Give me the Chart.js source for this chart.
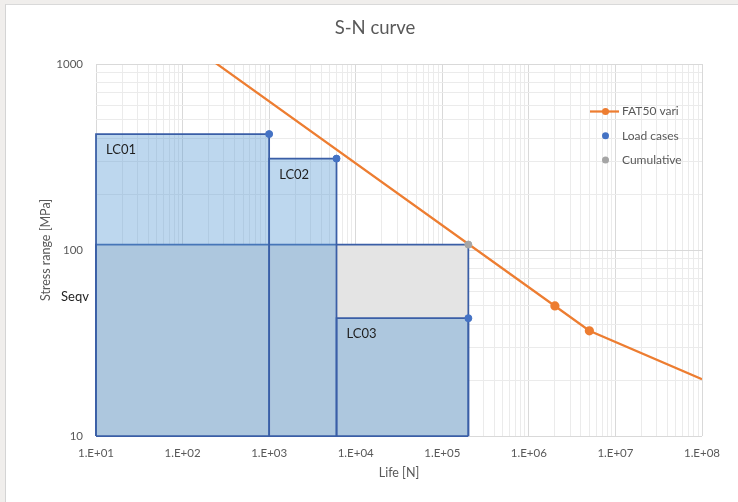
<!DOCTYPE html>
<html><head><meta charset="utf-8">
<script src="https://cdn.jsdelivr.net/npm/chart.js@4.4.1/dist/chart.umd.min.js"></script>
<style>
html,body{margin:0;padding:0;background:#f0eeec;width:738px;height:502px;overflow:hidden;}
#wrap{position:absolute;left:5px;top:4px;width:733px;height:498px;background:#fff;border-left:1px solid #d4d4d4;border-top:1px solid #d9d9d9;}
canvas{display:block;}
</style></head><body>
<div id="wrap"><canvas id="c" width="732" height="497"></canvas></div>
<script>
// ---- data ----
const chartTitle = 'S-N curve';
const xTitle = 'Life [N]';
const yTitle = 'Stress range [MPa]';
const xExponents = [1, 2, 3, 4, 5, 6, 7, 8];
const yExponents = [1, 2, 3];
const fatName = 'FAT50 vari';
const fatN = [100, 2000000, 5000000, 100000000];
const fatS = [1357, 50, 36.8, 20.2];
const fatMarker = [false, true, true, false];
const lcNames = ['LC01', 'LC02', 'LC03'];
const lcStartN = [10, 1000, 6000];
const lcEndN = [1000, 6000, 200000];
const lcStress = [420, 310, 43];
const seqvLabel = 'Seqv';
const seqvStress = 107;
const cumulativeN = 200000;
const loadCasesName = 'Load cases';
const cumulativeName = 'Cumulative';

// ---- helpers ----
function decadeTicks(exps) {
  const out = [];
  for (let i = 0; i < exps.length - 1; i++) {
    for (let s = 1; s <= 9; s++) out.push({ value: s * Math.pow(10, exps[i]), major: s === 1, exp: exps[i] });
  }
  const last = exps[exps.length - 1];
  out.push({ value: Math.pow(10, last), major: true, exp: last });
  return out;
}
const xTicks = decadeTicks(xExponents);
const yTicks = decadeTicks(yExponents);
const yMin = Math.pow(10, yExponents[0]);
const yMax = Math.pow(10, yExponents[yExponents.length - 1]);
const xMin = Math.pow(10, xExponents[0]);
const xMax = Math.pow(10, xExponents[xExponents.length - 1]);

const rectPts = (a, b, s) => [{ x: a, y: yMin }, { x: a, y: s }, { x: b, y: s }, { x: b, y: yMin }];

const BORDER = '#3a5ea6';
const LCFILL = 'rgba(91,155,213,0.4)';
const GREY = '#595959';
const FONT = 'Lato';

const datasets = [];
datasets.push({
  label: loadCasesName, data: lcNames.map((n, i) => ({ x: lcEndN[i], y: lcStress[i] })),
  showLine: false, pointRadius: 3.5, pointBackgroundColor: '#4472c4', pointBorderColor: '#4472c4', order: 0, clip: false
});
datasets.push({
  label: cumulativeName, data: [{ x: cumulativeN, y: seqvStress }],
  showLine: false, pointRadius: 3.5, pointBackgroundColor: '#a5a5a5', pointBorderColor: '#a5a5a5', order: 0, clip: false
});
datasets.push({
  label: fatName, data: fatN.map((n, i) => ({ x: n, y: fatS[i] })),
  borderColor: '#ed7d31', borderWidth: 2.25, pointRadius: fatMarker.map(m => m ? 3.5 : 0),
  pointBackgroundColor: '#ed7d31', pointBorderColor: '#ed7d31', tension: 0, order: 1
});
lcNames.forEach((n, i) => {
  datasets.push({
    label: n, data: rectPts(lcStartN[i], lcEndN[i], lcStress[i]), fill: 'start',
    backgroundColor: LCFILL, borderColor: BORDER, borderWidth: 1.75, pointRadius: 0, order: 3, clip: false
  });
});
datasets.push({
  label: seqvLabel, data: rectPts(lcStartN[0], cumulativeN, seqvStress), fill: 'start',
  backgroundColor: '#e4e4e4', borderColor: BORDER, borderWidth: 1.75, pointRadius: 0, order: 4, clip: false
});
datasets.push({
  label: 'base', data: [{ x: lcStartN[0], y: yMin }, { x: lcEndN[lcEndN.length - 1], y: yMin }],
  borderColor: BORDER, borderWidth: 1.75, pointRadius: 0, order: 2, clip: false
});

const annot = {
  id: 'annot',
  afterDatasetsDraw(chart) {
    const { ctx, chartArea } = chart;
    const x = chart.scales.x, y = chart.scales.y;
    ctx.save();
    ctx.font = '13px ' + FONT;
    ctx.fillStyle = '#1f1f1f';
    ctx.textBaseline = 'middle';
    ctx.textAlign = 'left';
    lcNames.forEach((n, i) => {
      ctx.fillText(n, x.getPixelForValue(lcStartN[i]) + 10, y.getPixelForValue(lcStress[i]) + 16);
    });
    ctx.fillText(seqvLabel, chartArea.left - 35, y.getPixelForValue(seqvStress) + 52);

    // legend
    const lx = chartArea.right - 112;
    const rows = [
      { name: fatName, color: '#ed7d31', line: true },
      { name: loadCasesName, color: '#4472c4', line: false },
      { name: cumulativeName, color: '#a5a5a5', line: false }
    ];
    ctx.font = '12px ' + FONT;
    rows.forEach((r, i) => {
      const ly = chartArea.top + 47.5 + i * 24.3;
      if (r.line) {
        ctx.strokeStyle = r.color; ctx.lineWidth = 2.25;
        ctx.beginPath(); ctx.moveTo(lx, ly); ctx.lineTo(lx + 29, ly); ctx.stroke();
      }
      ctx.fillStyle = r.color;
      ctx.beginPath(); ctx.arc(lx + 15.5, ly, 3.5, 0, Math.PI * 2); ctx.fill();
      ctx.fillStyle = GREY;
      ctx.fillText(r.name, lx + 32, ly);
    });
    ctx.restore();
  }
};

const gridColor = c => (c.tick && c.tick.major) ? '#d9d9d9' : '#ebebeb';

new Chart(document.getElementById('c'), {
  type: 'line',
  data: { datasets },
  options: {
    responsive: false, animation: false, events: [],
    layout: { padding: { left: 42, right: 36, top: 0, bottom: 16 } },
    plugins: {
      legend: { display: false }, tooltip: { enabled: false },
      title: { display: true, text: chartTitle, color: GREY, font: { family: FONT, size: 18.5, weight: 'normal' }, padding: { top: 12, bottom: 24.8 } }
    },
    scales: {
      x: {
        type: 'logarithmic', min: xMin, max: xMax,
        afterBuildTicks: s => { s.ticks = xTicks.map(t => ({ value: t.value, major: t.major, exp: t.exp })); },
        afterFit: s => { s.height = 50; },
        grid: { color: gridColor, drawTicks: false, lineWidth: 1 },
        border: { display: false },
        ticks: {
          autoSkip: false, maxRotation: 0, minRotation: 0, padding: 10, color: GREY, font: { family: FONT, size: 11.5 },
          callback: (v, i, ticks) => ticks[i].major ? '1.E+' + String(xTicks[i].exp).padStart(2, '0') : ''
        },
        title: { display: true, text: xTitle, color: GREY, font: { family: FONT, size: 12.5 }, padding: { top: 4, bottom: 5.5 } }
      },
      y: {
        type: 'logarithmic', min: yMin, max: yMax,
        afterBuildTicks: s => { s.ticks = yTicks.map(t => ({ value: t.value, major: t.major, exp: t.exp })); },
        afterFit: s => { s.width = 48; },
        grid: { color: gridColor, drawTicks: false, lineWidth: 1 },
        border: { display: false },
        ticks: {
          autoSkip: false, padding: 13, color: GREY, font: { family: FONT, size: 11.5 },
          callback: (v, i, ticks) => ticks[i].major ? String(Math.round(yTicks[i].value)) : ''
        },
        title: { display: true, text: yTitle, color: GREY, font: { family: FONT, size: 12.5 }, padding: { top: -9.5, bottom: 0 } }
      }
    }
  },
  plugins: [annot]
});
</script>
</body></html>
